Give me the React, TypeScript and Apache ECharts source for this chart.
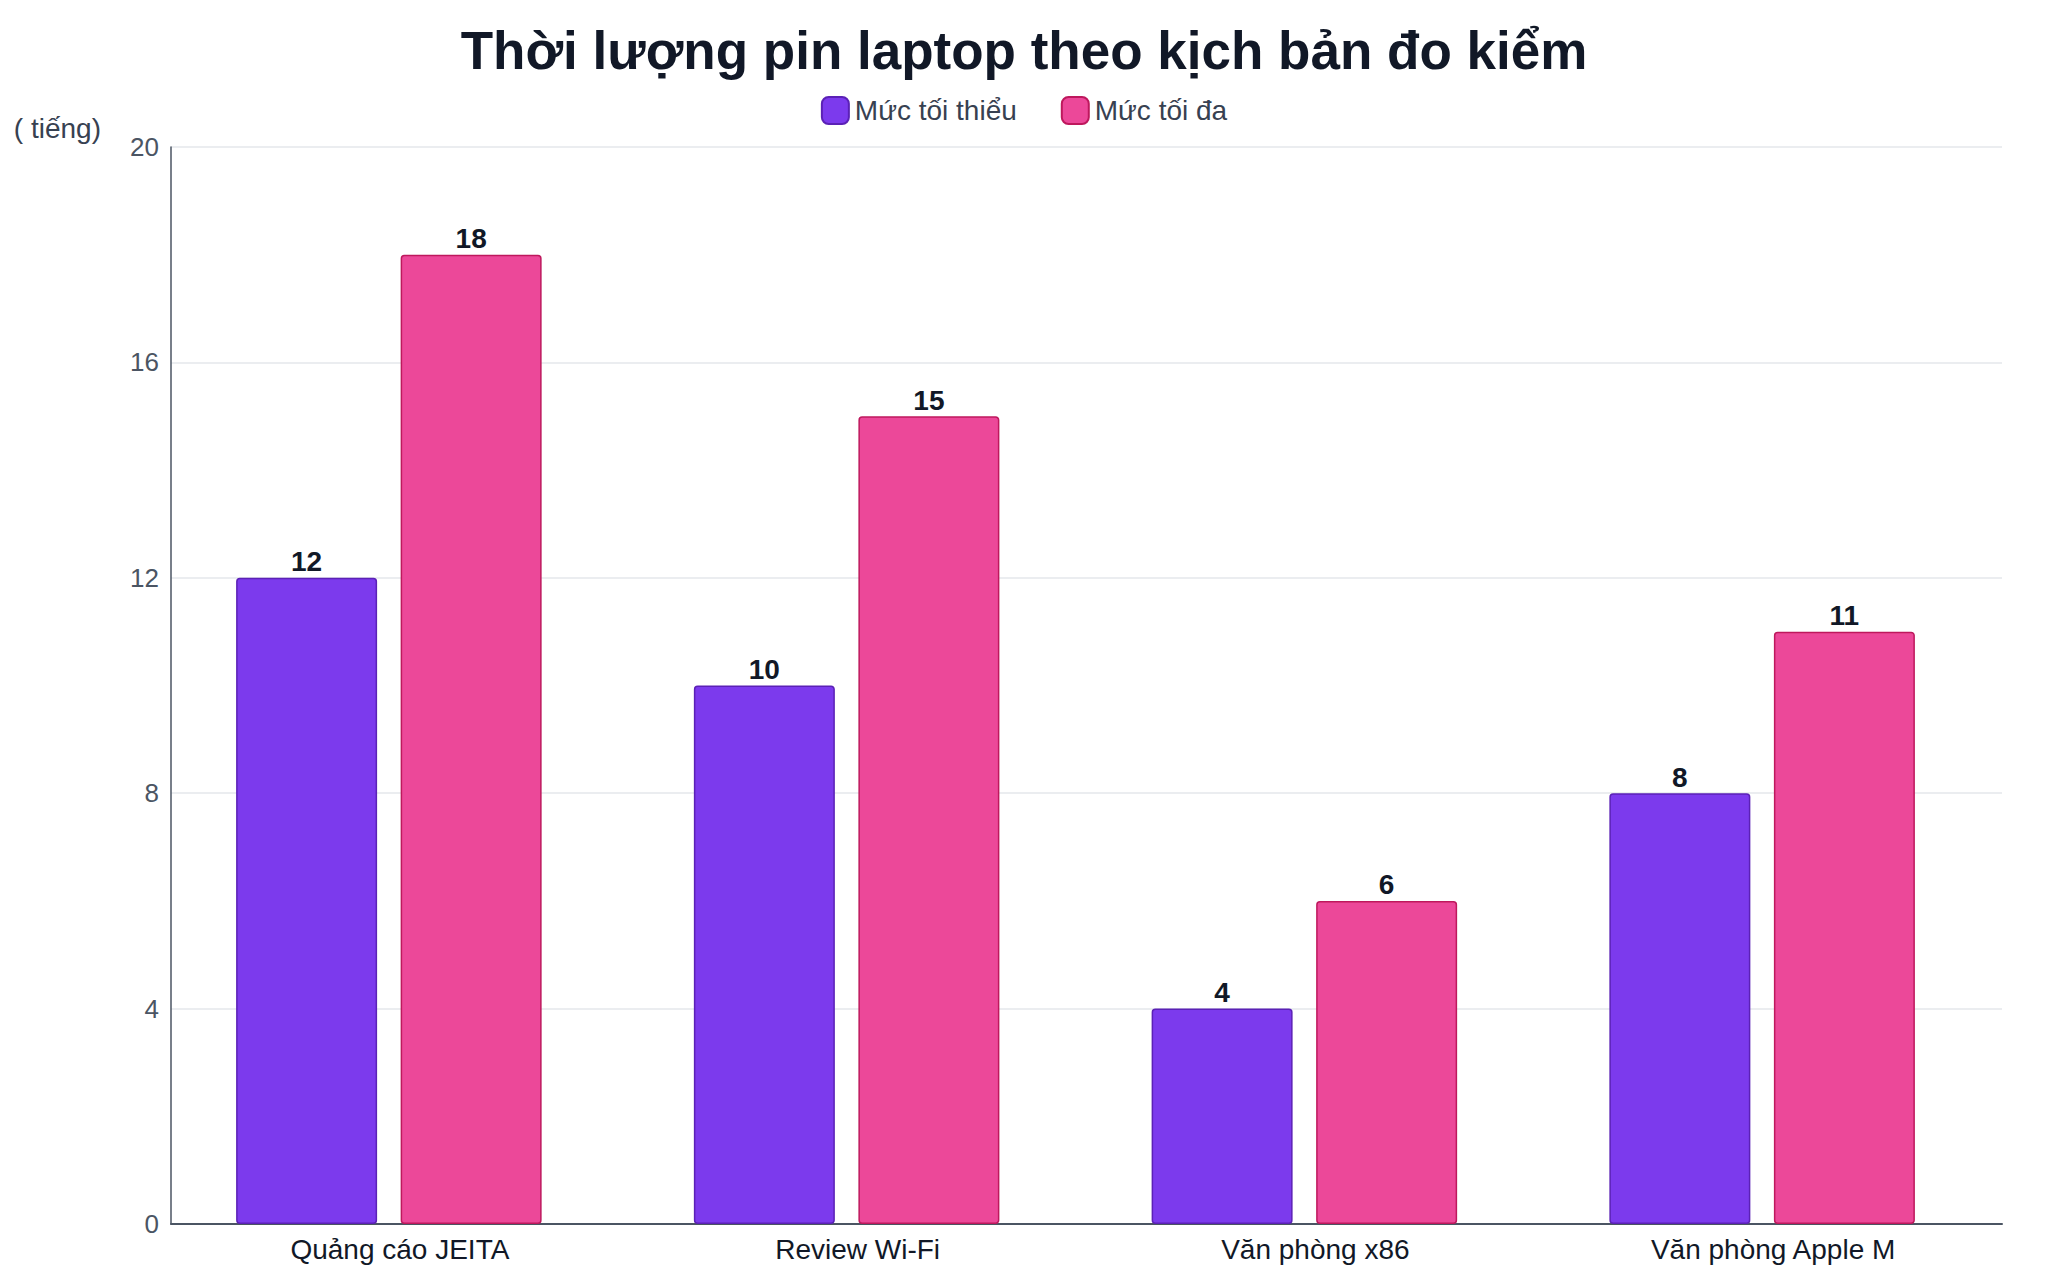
import React, { useEffect, useRef } from "react";
import * as echarts from "echarts";

const TITLE = "Thời lượng pin laptop theo kịch bản đo kiểm";
const Y_NAME = "( tiếng)";
const categories = ["Quảng cáo JEITA", "Review Wi-Fi", "Văn phòng x86", "Văn phòng Apple M"];
const seriesNames = ["Mức tối thiểu", "Mức tối đa"];
const minValues = [12, 10, 4, 8];
const maxValues = [18, 15, 6, 11];
const yTicks = [0, 4, 8, 12, 16, 20];

const FONT = "'Liberation Sans', Arial, Helvetica, sans-serif";

export default function App() {
  const ref = useRef<HTMLDivElement>(null);

  useEffect(() => {
    if (!ref.current) return;
    const chart = echarts.init(ref.current, undefined, { renderer: "svg" });
    const yMin = yTicks[0];
    const yMax = yTicks[yTicks.length - 1];
    const yInterval = yTicks[1] - yTicks[0];

    const labelStyle = {
      show: true,
      position: "top" as const,
      distance: 2,
      color: "#111827",
      fontFamily: FONT,
      fontWeight: "bold" as const,
      fontSize: 28,
    };

    chart.setOption({
      animation: false,
      backgroundColor: "#ffffff",
      textStyle: { fontFamily: FONT },
      title: {
        text: TITLE,
        left: "center",
        top: 11,
        textStyle: {
          fontFamily: FONT,
          fontSize: 53,
          fontWeight: "bold",
          color: "#111827",
        },
      },
      legend: {
        top: 83,
        left: "center",
        itemWidth: 27,
        itemHeight: 27,
        itemGap: 44,
        icon: "roundRect",
        textStyle: { fontFamily: FONT, fontSize: 28, color: "#374151", padding: [0, 0, 0, 1] },
        data: seriesNames,
      },
      grid: [
        { left: 163, right: 38, top: 139, bottom: 48, containLabel: false },
        { left: 152, right: 49, top: 139, bottom: 48, containLabel: false },
      ],
      xAxis: [
        {
          type: "category",
          gridIndex: 0,
          data: categories,
          axisLine: { show: true, lineStyle: { color: "#4b5563", width: 2 } },
          axisTick: { show: false },
          axisLabel: { fontFamily: FONT, fontSize: 28, color: "#111827", margin: 11 },
          splitLine: { show: false },
        },
        {
          type: "category",
          gridIndex: 1,
          data: categories,
          show: false,
        },
      ],
      yAxis: [
        {
          type: "value",
          gridIndex: 0,
          min: yMin,
          max: yMax,
          interval: yInterval,
          name: Y_NAME,
          nameLocation: "end",
          nameGap: 19,
          nameTextStyle: {
            fontFamily: FONT,
            fontSize: 28,
            color: "#374151",
            align: "right",
            verticalAlign: "middle",
            padding: [0, 70, 0, 0],
          },
          axisLine: { show: true, lineStyle: { color: "#4b5563", width: 1.5 } },
          axisTick: { show: false },
          axisLabel: { fontFamily: FONT, fontSize: 26, color: "#4b5563", margin: 12 },
          splitLine: { show: true, lineStyle: { color: "#e5e7eb", width: 1.5 } },
        },
        {
          type: "value",
          gridIndex: 1,
          min: yMin,
          max: yMax,
          interval: yInterval,
          show: false,
          splitLine: { show: false },
        },
      ],
      series: [
        {
          name: seriesNames[0],
          type: "bar",
          xAxisIndex: 1,
          yAxisIndex: 1,
          data: minValues,
          barWidth: "30.8%",
          barGap: "16.7%",
          itemStyle: { color: "#7c3aed", borderColor: "#5b21b6", borderWidth: 1.5, borderRadius: 3 },
          label: labelStyle,
        },
        {
          name: seriesNames[1],
          type: "bar",
          xAxisIndex: 1,
          yAxisIndex: 1,
          data: maxValues,
          barWidth: "30.8%",
          barGap: "16.7%",
          itemStyle: { color: "#ec4899", borderColor: "#be185d", borderWidth: 1.5, borderRadius: 3 },
          label: labelStyle,
        },
      ],
    });

    return () => chart.dispose();
  }, []);

  return <div ref={ref} style={{ width: 2032, height: 1264 }} />;
}
